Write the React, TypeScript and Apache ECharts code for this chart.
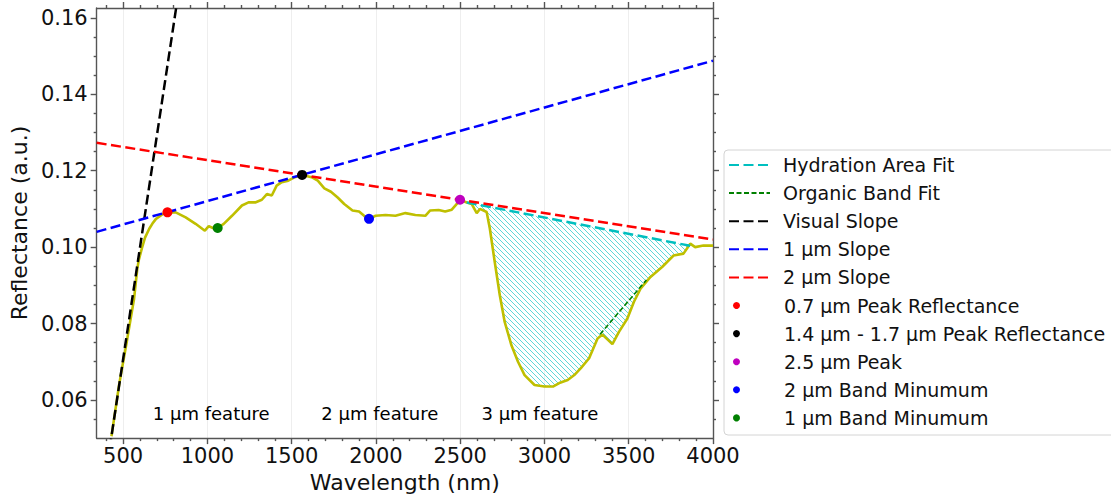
import React, { useEffect, useRef } from "react";
import * as echarts from "echarts";

// ---- Data ----
const wavelengthNm = [
  431, 476, 525, 565, 584, 594, 612, 630, 655, 673, 695, 722, 740, 763, 812, 871, 930, 985, 1008, 1032,
  1061, 1097, 1146, 1205, 1244, 1284, 1323, 1353, 1382, 1411, 1441, 1480, 1519, 1562, 1618, 1655, 1694,
  1733, 1773, 1812, 1861, 1900, 1930, 1959, 1998, 2057, 2116, 2175, 2234, 2293, 2322, 2372, 2411, 2450,
  2480, 2499, 2539, 2568, 2598, 2617, 2657, 2676, 2705, 2735, 2764, 2804, 2843, 2882, 2941, 3000, 3050,
  3088, 3138, 3177, 3216, 3265, 3315, 3344, 3403, 3442, 3492, 3531, 3570, 3629, 3698, 3766, 3825, 3865,
  3894, 3943, 4000,
];
const reflectance = [
  0.0505, 0.0639, 0.0761, 0.0865, 0.0943, 0.0968, 0.0998, 0.1025, 0.1048, 0.1061, 0.1074, 0.1082, 0.1088,
  0.1091, 0.1091, 0.1078, 0.1061, 0.1043, 0.1055, 0.105, 0.105, 0.1061, 0.1082, 0.1109, 0.1117, 0.1117,
  0.1124, 0.1139, 0.1135, 0.1161, 0.117, 0.1174, 0.1183, 0.1189, 0.1183, 0.1174, 0.1154, 0.1145, 0.113,
  0.1113, 0.1096, 0.1093, 0.1082, 0.1074, 0.1082, 0.1084, 0.1082, 0.1089, 0.1084, 0.1082, 0.1096, 0.1097,
  0.1093, 0.1098, 0.1113, 0.1124, 0.1117, 0.1113, 0.1089, 0.11, 0.1092, 0.1048, 0.0961, 0.0874, 0.0804,
  0.0743, 0.07, 0.0665, 0.0639, 0.0635, 0.0635, 0.0644, 0.0652, 0.0665, 0.0683, 0.0709, 0.0761, 0.0771,
  0.0746, 0.0778, 0.0813, 0.0857, 0.0891, 0.0922, 0.0948, 0.0978, 0.0983, 0.1009, 0.1, 0.1004, 0.1004,
];

const hydrationFit = [[2539, 0.1117], [3870, 0.1003]];
const organicFit = [[3330, 0.0772], [3605, 0.0914]];
const visualSlope = [[420, 0.0473], [830, 0.1671]];
const slope1um = [[343, 0.104], [4000, 0.1488]];
const slope2um = [[343, 0.1273], [4000, 0.102]];

const peak07 = [[763, 0.1091]];
const peak14to17 = [[1562, 0.1189]];
const peak25 = [[2499, 0.1124]];
const bandMin2 = [[1959, 0.1074]];
const bandMin1 = [[1061, 0.105]];

const featureLabels = [
  [700, 0.0565, "1 µm feature"],
  [1700, 0.0565, "2 µm feature"],
  [2650, 0.0565, "3 µm feature"],
];

const xMajorTicks = [500, 1000, 1500, 2000, 2500, 3000, 3500, 4000];
const yMajorTicks = [0.06, 0.08, 0.1, 0.12, 0.14, 0.16];
const X_MIN = 343;
const X_MAX = 4000;
const Y_MIN = 0.05;
const Y_MAX = 0.1626;

const FONT = "'DejaVu Sans', sans-serif";

export default function App() {
  const ref = useRef<HTMLDivElement>(null);

  useEffect(() => {
    const chart = echarts.init(ref.current!, null, { renderer: "svg" });

    const xMinorTicks: number[] = [];
    for (let v = 400; v <= 4000; v += 100) if (v % 500 !== 0) xMinorTicks.push(v);
    const yMinorTicks: number[] = [];
    for (let i = 11; i <= 32; i++) if (i % 4 !== 0) yMinorTicks.push(Math.round(i * 5) / 1000);

    const canvas = document.createElement("canvas");
    canvas.width = 5;
    canvas.height = 5;
    const ctx = canvas.getContext("2d")!;
    ctx.strokeStyle = "rgba(0,191,191,0.7)";
    ctx.lineWidth = 0.9;
    ctx.beginPath();
    for (let k = -1; k <= 1; k++) {
      ctx.moveTo(k * 5, 0);
      ctx.lineTo(k * 5 + 5, 5);
    }
    ctx.stroke();
    const pattern: any = { image: canvas, repeat: "repeat", imageWidth: 5, imageHeight: 5 };

    const curve = wavelengthNm.map((x, i) => [x, reflectance[i]]);
    const hatchPts = [
      hydrationFit[0],
      ...curve.filter((p) => p[0] > hydrationFit[0][0] && p[0] < hydrationFit[1][0]),
      hydrationFit[1],
    ];

    const spine = { color: "#555", width: 1.4 };
    const txt = { fontFamily: FONT, color: "#111" };

    const xBase = { type: "value", min: X_MIN, max: X_MAX, gridIndex: 0 };
    const yBase = { type: "value", min: Y_MIN, max: Y_MAX, gridIndex: 0 };

    const dash = [10, 4.5];

    const option: any = {
      animation: false,
      backgroundColor: "#fff",
      textStyle: { fontFamily: FONT },
      grid: { left: 92, top: 8, width: 621, height: 431, containLabel: false },
      xAxis: [
        {
          ...xBase,
          position: "bottom",
          axisLine: { show: true, onZero: false, lineStyle: spine },
          axisTick: { show: true, inside: false, length: 6, customValues: xMajorTicks, lineStyle: spine },
          axisLabel: {
            customValues: xMajorTicks,
            fontSize: 21,
            margin: 7,
            formatter: (v: number) => String(v),
            ...txt,
          },
          splitLine: { show: true, lineStyle: { color: "#eeeeee", width: 1 } },
          name: "Wavelength (nm)",
          nameLocation: "middle",
          nameGap: 30,
          nameTextStyle: { fontSize: 22, ...txt },
        },
        {
          ...xBase,
          position: "bottom",
          axisLine: { show: false, onZero: false },
          axisTick: { show: true, length: 3, customValues: xMinorTicks, lineStyle: spine },
          axisLabel: { show: false },
          splitLine: { show: false },
        },
        {
          ...xBase,
          position: "top",
          axisLine: { show: true, onZero: false, lineStyle: spine },
          axisTick: { show: true, length: 6, customValues: xMajorTicks, lineStyle: spine },
          axisLabel: { show: false },
          splitLine: { show: false },
        },
        {
          ...xBase,
          position: "top",
          axisLine: { show: false, onZero: false },
          axisTick: { show: true, length: 3, customValues: xMinorTicks, lineStyle: spine },
          axisLabel: { show: false },
          splitLine: { show: false },
        },
      ],
      yAxis: [
        {
          ...yBase,
          position: "left",
          axisLine: { show: true, onZero: false, lineStyle: spine },
          axisTick: { show: true, length: 6, customValues: yMajorTicks, lineStyle: spine },
          axisLabel: {
            customValues: yMajorTicks,
            fontSize: 21,
            margin: 9,
            formatter: (v: number) => v.toFixed(2),
            ...txt,
          },
          splitLine: { show: false },
          name: "Reflectance (a.u.)",
          nameLocation: "middle",
          nameGap: 61,
          nameTextStyle: { fontSize: 22, ...txt },
        },
        {
          ...yBase,
          position: "left",
          axisLine: { show: false, onZero: false },
          axisTick: { show: true, length: 3, customValues: yMinorTicks, lineStyle: spine },
          axisLabel: { show: false },
          splitLine: { show: false },
        },
        {
          ...yBase,
          position: "right",
          axisLine: { show: true, onZero: false, lineStyle: spine },
          axisTick: { show: true, length: 6, customValues: yMajorTicks, lineStyle: spine },
          axisLabel: { show: false },
          splitLine: { show: false },
        },
        {
          ...yBase,
          position: "right",
          axisLine: { show: false, onZero: false },
          axisTick: { show: true, length: 3, customValues: yMinorTicks, lineStyle: spine },
          axisLabel: { show: false },
          splitLine: { show: false },
        },
      ],
      graphic: [
        {
          type: "rect",
          left: 723.5,
          top: 149.5,
          shape: { width: 420, height: 285, r: 4 },
          style: { fill: "rgba(255,255,255,0.85)", stroke: "#d4d4d4", lineWidth: 1 },
          z: 3,
        },
      ],
      legend: [
        {
          orient: "vertical",
          left: 728,
          top: 155,
          padding: 0,
          itemWidth: 41,
          itemHeight: 7,
          itemGap: 8.1,
          z: 10,
          itemStyle: { opacity: 0, borderWidth: 0 },
          textStyle: { fontSize: 19, lineHeight: 20, padding: [0, 0, 0, 8], ...txt },
          data: ["Hydration Area Fit", "Organic Band Fit", "Visual Slope", "1 µm Slope", "2 µm Slope"],
        },
        {
          orient: "vertical",
          left: 733,
          top: 295.5,
          padding: 0,
          itemWidth: 41,
          itemHeight: 7,
          itemGap: 8.1,
          icon: "circle",
          z: 10,
          textStyle: { fontSize: 19, lineHeight: 20, padding: [0, 0, 0, 22], ...txt },
          data: [
            "0.7 µm Peak Reflectance",
            "1.4 µm - 1.7 µm Peak Reflectance",
            "2.5 µm Peak",
            "2 µm Band Minumum",
            "1 µm Band Minumum",
          ],
        },
      ],
      series: [
        {
          type: "custom",
          name: "hatch",
          silent: true,
          clip: true,
          data: [hydrationFit[0]],
          renderItem: (_p: any, api: any) => ({
            type: "polygon",
            shape: { points: hatchPts.map((p) => api.coord(p)) },
            style: { fill: pattern, stroke: "none" },
          }),
          z: 1,
        },
        {
          type: "line",
          name: "Spectrum",
          data: curve,
          showSymbol: false,
          symbol: "none",
          lineStyle: { color: "#bfbf00", width: 2.6 },
          z: 2,
        },
        {
          type: "line",
          name: "Hydration Area Fit",
          data: hydrationFit,
          symbol: "none",
          color: "#00bfbf",
          lineStyle: { color: "#00bfbf", width: 2.5, type: dash },
          z: 3,
        },
        {
          type: "line",
          name: "Organic Band Fit",
          data: organicFit,
          symbol: "none",
          color: "#008000",
          lineStyle: { color: "#008000", width: 1.6, type: [5, 2.5] },
          z: 3,
        },
        {
          type: "line",
          name: "Visual Slope",
          data: visualSlope,
          symbol: "none",
          color: "#000000",
          lineStyle: { color: "#000000", width: 2.5, type: dash },
          z: 3,
        },
        {
          type: "line",
          name: "1 µm Slope",
          data: slope1um,
          symbol: "none",
          color: "#0000ff",
          lineStyle: { color: "#0000ff", width: 2.5, type: dash },
          z: 3,
        },
        {
          type: "line",
          name: "2 µm Slope",
          data: slope2um,
          symbol: "none",
          color: "#ff0000",
          lineStyle: { color: "#ff0000", width: 2.5, type: dash },
          z: 3,
        },
        { type: "scatter", name: "0.7 µm Peak Reflectance", data: peak07, symbolSize: 10, itemStyle: { color: "#ff0000", opacity: 1 }, z: 4 },
        { type: "scatter", name: "1.4 µm - 1.7 µm Peak Reflectance", data: peak14to17, symbolSize: 10, itemStyle: { color: "#000000", opacity: 1 }, z: 4 },
        { type: "scatter", name: "2.5 µm Peak", data: peak25, symbolSize: 10, itemStyle: { color: "#bf00bf", opacity: 1 }, z: 4 },
        { type: "scatter", name: "2 µm Band Minumum", data: bandMin2, symbolSize: 10, itemStyle: { color: "#0000ff", opacity: 1 }, z: 4 },
        { type: "scatter", name: "1 µm Band Minumum", data: bandMin1, symbolSize: 10, itemStyle: { color: "#008000", opacity: 1 }, z: 4 },
        {
          type: "scatter",
          name: "features",
          silent: true,
          data: featureLabels,
          symbolSize: 0,
          itemStyle: { color: "#000", opacity: 1 },
          label: {
            show: true,
            position: "right",
            distance: 0,
            offset: [-4, 0],
            formatter: (p: any) => p.data[2],
            fontSize: 18,
            fontFamily: FONT,
            color: "#000",
          },
          z: 4,
        },
      ],
    };

    chart.setOption(option);
    return () => chart.dispose();
  }, []);

  return (
    <div
      ref={ref}
      style={{ position: "fixed", left: 0, top: 0, width: 1111, height: 498, background: "#fff" }}
    />
  );
}
